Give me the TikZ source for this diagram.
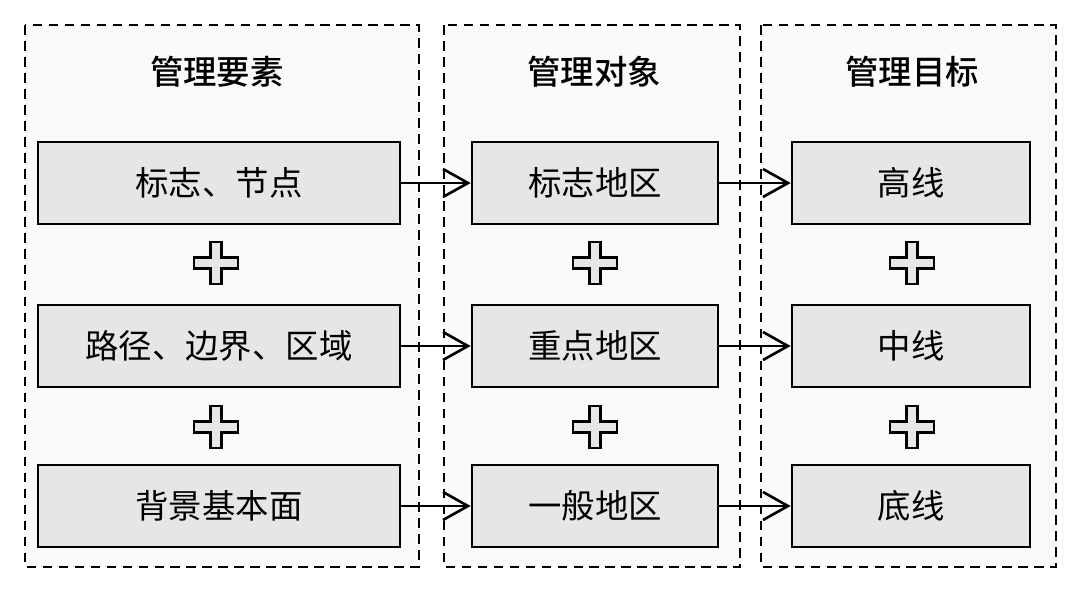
\documentclass[tikz,border=0pt]{standalone}
\usepackage{fontspec}
\setmainfont{Noto Sans CJK SC}
\newfontfamily\titlefont{Noto Sans CJK SC Medium}
\usetikzlibrary{arrows.meta, positioning}
\definecolor{boxgray}{HTML}{E6E6E6}
\definecolor{panelgray}{HTML}{FAFAFA}

\begin{document}
\begin{tikzpicture}[x=0.02cm, y=-0.02cm, line width=1.5pt,
    panel/.style={draw, line width=1.6pt, dash pattern=on 5.5pt off 3.6pt, fill=panelgray},
    itembox/.style={draw, fill=boxgray, minimum height=1.64cm, inner sep=0pt, font=\fontsize{19}{22}\selectfont},
    heading/.style={font=\titlefont\fontsize{19}{22}\selectfont},
    link/.style={-{Straight Barb[length=0.5cm, width=0.56cm, line width=1.5pt]}},
    pluss/.pic={
        \draw[line width=1.5pt, fill=boxgray] (-5.5,-21) -- (5.5,-21) -- (5.5,-5.5) -- (22,-5.5) -- (22,5.5) -- (5.5,5.5)
            -- (5.5,21) -- (-5.5,21) -- (-5.5,5.5) -- (-22,5.5) -- (-22,-5.5) -- (-5.5,-5.5) -- cycle;
    }]
    \useasboundingbox (0,0) rectangle (1080,599);

    % Panels
    \draw[panel] (25,25) rectangle (419,567);
    \draw[panel] (444,25) rectangle (740,567);
    \draw[panel] (761,25) rectangle (1056,567);

    % Headings
    \node[heading] (h1) at (217,72) {管理要素};
    \node[heading] (h2) at (594,72) {管理对象};
    \node[heading] (h3) at (912,72) {管理目标};

    % Elements
    \node[itembox, minimum width=7.24cm] (e1) at (219,183) {标志、节点};
    \node[itembox, minimum width=7.24cm] (e2) at (219,346) {路径、边界、区域};
    \node[itembox, minimum width=7.24cm] (e3) at (219,506) {背景基本面};

    % Objects
    \node[itembox, minimum width=4.92cm] (o1) at (595,183) {标志地区};
    \node[itembox, minimum width=4.92cm] (o2) at (595,346) {重点地区};
    \node[itembox, minimum width=4.92cm] (o3) at (595,506) {一般地区};

    % Targets
    \node[itembox, minimum width=4.76cm] (t1) at (911,183) {高线};
    \node[itembox, minimum width=4.76cm] (t2) at (911,346) {中线};
    \node[itembox, minimum width=4.76cm] (t3) at (911,506) {底线};

    % Plus signs
    \foreach \px in {216,595,912} {
        \pic at (\px,263) {pluss};
        \pic at (\px,427) {pluss};
    }

    % Connectors
    \draw[link] (e1) -- (o1);
    \draw[link] (e2) -- (o2);
    \draw[link] (e3) -- (o3);
    \draw[link] (o1) -- (t1);
    \draw[link] (o2) -- (t2);
    \draw[link] (o3) -- (t3);
\end{tikzpicture}
\end{document}
